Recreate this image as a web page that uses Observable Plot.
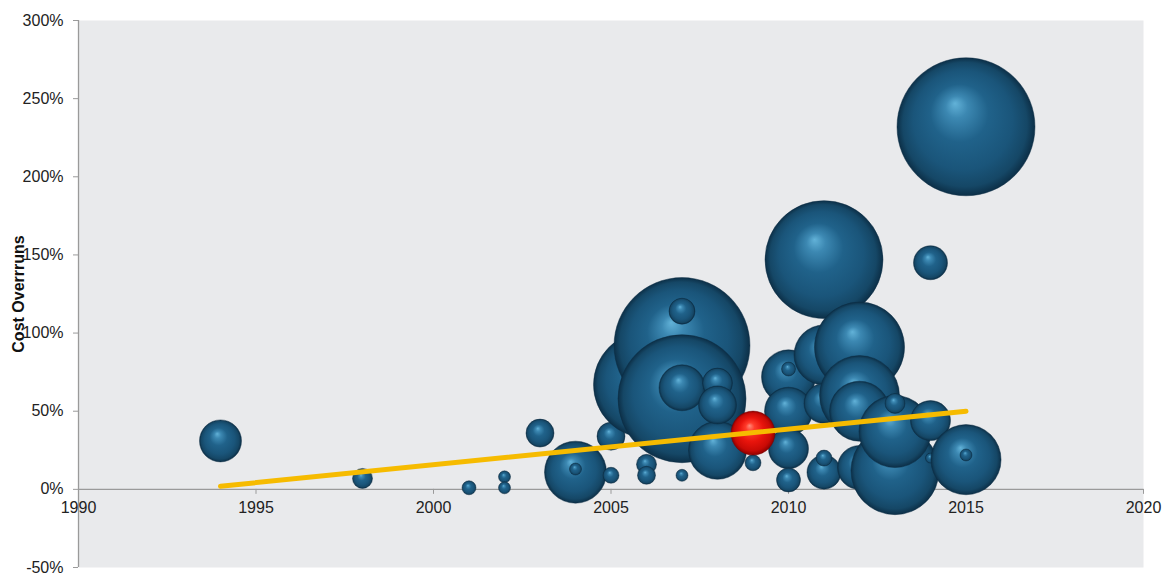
<!DOCTYPE html>
<html>
<head>
<meta charset="utf-8">
<script src="https://cdn.jsdelivr.net/npm/d3@7"></script>
<script src="https://cdn.jsdelivr.net/npm/@observablehq/plot@0.6"></script>
<style>
  body { margin: 0; background: #fff; font-family: "Liberation Sans", Arial, sans-serif; }
</style>
</head>
<body>
<div id="chart"></div>
<script>
// Projects: completion year, cost overrun (%), project size (budget units).
// Listed in drawing order: by year, larger projects first.
const years = [1994, 1998, 2001, 2002, 2002, 2003, 2004, 2004, 2005, 2005,
               2006, 2006, 2006, 2007, 2007, 2007, 2007, 2007, 2008, 2008,
               2008, 2009, 2009, 2010, 2010, 2010, 2010, 2010, 2011, 2011,
               2011, 2011, 2011, 2012, 2012, 2012, 2012, 2013, 2013, 2013,
               2014, 2014, 2014, 2015, 2015, 2015];
const overruns = [31, 7, 1, 8, 1, 36, 11, 13, 34, 9,
                  67, 16, 9, 92, 58, 65, 114, 9, 25, 68,
                  54, 36, 17, 72, 50, 26, 6, 77, 147, 86,
                  55, 11, 20, 91, 60, 50, 14, 12, 37, 55,
                  44, 145, 20, 232, 19, 22];
const sizes = [4.41, 1.0, 0.49, 0.36, 0.36, 1.96, 9.61, 0.36, 1.96, 0.64,
               28.1, 1.0, 0.81, 46.2, 41.0, 5.29, 1.69, 0.36, 8.41, 2.25,
               3.61, 4.84, 0.64, 7.29, 5.76, 4.0, 1.44, 0.49, 34.8, 9.0,
               4.0, 2.89, 0.64, 20.3, 16.0, 9.0, 4.84, 19.4, 13.0, 1.0,
               4.0, 2.89, 0.25, 47.6, 12.3, 0.36];
// The highlighted project (drawn in red)
const focusYear = 2009;
const focusOverrun = 36;

// Linear trend of overruns over time
const trendYears = [1994, 2015];
const trendValues = [2, 50];

// Axis ticks
const xTicks = [1990, 1995, 2000, 2005, 2010, 2015, 2020];
const yTicks = [-50, 0, 50, 100, 150, 200, 250, 300];
const yLabel = "Cost Overrruns";

const projects = years.map((year, i) => ({
  year, overrun: overruns[i], size: sizes[i],
  focus: year === focusYear && overruns[i] === focusOverrun
}));
const trend = trendYears.map((year, i) => ({year, overrun: trendValues[i]}));

const chart = Plot.plot({
  width: 1168,
  height: 577,
  marginLeft: 78,
  marginRight: 25,
  marginTop: 20,
  marginBottom: 10,
  style: {fontFamily: "'Liberation Sans', Arial, sans-serif", fontSize: "16px", color: "#222", background: "#fff"},
  x: {domain: [1990, 2020], axis: null},
  y: {domain: [-50, 300], axis: null},
  r: {type: "sqrt", domain: [0, 50], range: [0, 70.7]},
  marks: [
    Plot.frame({fill: "#e9eaec", stroke: null}),
    Plot.ruleY([0], {stroke: "#9a9a9a", strokeWidth: 1.3}),
    Plot.ruleX([1990], {stroke: "#9a9a9a", strokeWidth: 1.3}),
    Plot.axisY(yTicks, {
      tickSize: 5, tickPadding: 10, label: null,
      tickFormat: d => d + "%", stroke: "#9a9a9a", fill: "#222", fontSize: 16
    }),
    Plot.ruleX(xTicks, {x: d => d, y1: 0, y2: 0, insetBottom: -5, stroke: "#9a9a9a"}),
    Plot.text(xTicks, {x: d => d, y: 0, dy: 19, text: d => String(d), fill: "#222", fontSize: 16}),
    // keep the listed drawing order instead of the default size sort
    Plot.dot(projects.filter(d => !d.focus), {
      x: "year", y: "overrun", r: "size", sort: null,
      fill: "url(#bubbleBlue)", stroke: "#0b2c44", strokeWidth: 0.6, strokeOpacity: 0.8
    }),
    Plot.dot(projects.filter(d => d.focus), {
      x: "year", y: "overrun", r: "size", sort: null,
      fill: "url(#bubbleRed)", stroke: "#7a0000", strokeWidth: 0.6, strokeOpacity: 0.8
    }),
    Plot.line(trend, {x: "year", y: "overrun", stroke: "#f6bb00", strokeWidth: 5, strokeLinecap: "round"}),
    Plot.text([yLabel], {
      frameAnchor: "left", textAnchor: "middle", rotate: -90, dx: -60,
      fontWeight: "bold", fontSize: 16, fill: "#111"
    })
  ]
});

// Sphere shading for the bubbles
const defs = d3.select(chart).insert("defs", ":first-child");
function sphere(id, stops) {
  const g = defs.append("radialGradient")
    .attr("id", id)
    .attr("cx", 0.5).attr("cy", 0.5).attr("r", 0.5)
    .attr("fx", 0.42).attr("fy", 0.33);
  for (const [offset, color] of stops) {
    g.append("stop").attr("offset", offset).attr("stop-color", color);
  }
}
sphere("bubbleBlue", [
  [0, "#62b2d8"], [0.16, "#3c88b2"], [0.42, "#20628a"],
  [0.72, "#1a557a"], [0.9, "#154766"], [1, "#0c2f47"]
]);
sphere("bubbleRed", [
  [0, "#ff8a7a"], [0.2, "#ff3b2a"], [0.55, "#e8140c"],
  [0.85, "#c80a05"], [1, "#8e0000"]
]);

document.getElementById("chart").appendChild(chart);
</script>
</body>
</html>
